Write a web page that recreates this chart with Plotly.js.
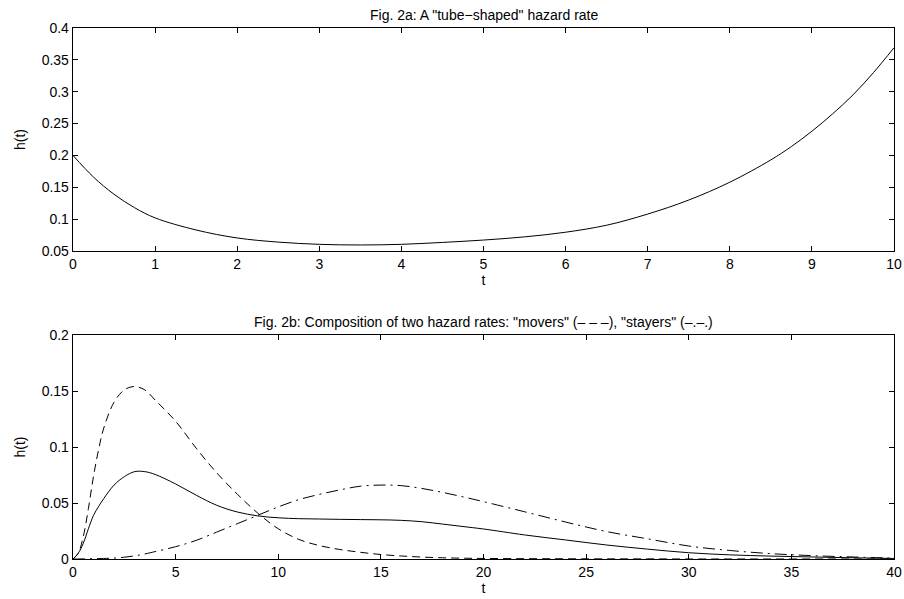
<!DOCTYPE html>
<html>
<head>
<meta charset="utf-8">
<script src="https://cdn.plot.ly/plotly-3.0.1.min.js"></script>
<style>html,body{margin:0;padding:0;background:#fff;}#chart{width:904px;height:599px;}</style>
</head>
<body>
<div id="chart"></div>
<script>
// Fig. 2a: tube-shaped hazard rate
const tA = [0,0.25,0.5,0.75,1,1.5,2,2.5,3,3.5,4,4.5,5,5.5,6,6.5,7,7.5,8,8.5,8.75,9,9.25,9.5,9.75,10];
const hTube = [0.2,0.166,0.139,0.118,0.102,0.083,0.0705,0.064,0.0605,0.0595,0.0605,0.0635,0.0672,0.0722,0.0795,0.0905,0.108,0.13,0.158,0.193,0.214,0.238,0.265,0.295,0.33,0.369];

// Fig. 2b: composition of two hazard rates
const tB = [0,0.25,0.5,0.75,1,1.25,1.5,2,2.5,3,3.5,4,5,6,7,8,9,10,11,12,13,14,15,16,17,18,19,20,22,24,26,28,30,32,34,36,38,40];
const hMix = [0,0.005,0.014,0.027,0.039,0.047,0.054,0.066,0.0735,0.078,0.078,0.0755,0.067,0.057,0.048,0.042,0.0385,0.0368,0.036,0.0357,0.0354,0.0352,0.035,0.0345,0.0333,0.0312,0.029,0.0268,0.0215,0.017,0.0125,0.0088,0.0056,0.0037,0.0026,0.0018,0.0011,0.0005];
const hMovers = [0,0.005,0.02,0.045,0.074,0.098,0.117,0.14,0.151,0.154,0.151,0.142,0.123,0.099,0.077,0.058,0.041,0.027,0.0175,0.012,0.0085,0.006,0.004,0.0027,0.0017,0.0011,0.0007,0.0005,0.0003,0.0002,0.0001,0.0001,0,0,0,0,0,0];
const hStayers = [0,0,0.0001,0.0002,0.0003,0.0004,0.0005,0.0008,0.0016,0.0028,0.0045,0.0066,0.011,0.0166,0.024,0.0315,0.039,0.0465,0.053,0.0577,0.0617,0.065,0.066,0.0655,0.063,0.0595,0.0555,0.0512,0.0422,0.033,0.0245,0.018,0.0116,0.0076,0.0048,0.003,0.0018,0.0008];

const titleA = 'Fig. 2a: A "tube\u2212shaped" hazard rate';
const titleB = 'Fig. 2b: Composition of two hazard rates: "movers" (\u2013 \u2013 \u2013), "stayers" (\u2013.\u2013.)';
const xTicksA = [0,1,2,3,4,5,6,7,8,9,10];
const yTicksA = [0.05,0.1,0.15,0.2,0.25,0.3,0.35,0.4];
const xTicksB = [0,5,10,15,20,25,30,35,40];
const yTicksB = [0,0.05,0.1,0.15,0.2];

const FONT = {family: '"Liberation Sans", Arial, Helvetica, sans-serif', size: 14, color: '#000'};
const lineBase = {color: '#000', width: 1, shape: 'spline', smoothing: 1};

const traces = [
  {x: tA, y: hTube, type: 'scatter', mode: 'lines', line: Object.assign({}, lineBase), xaxis: 'x', yaxis: 'y', hoverinfo: 'skip'},
  {x: tB, y: hMovers, type: 'scatter', mode: 'lines', line: Object.assign({}, lineBase, {dash: '8px,5px'}), xaxis: 'x2', yaxis: 'y2', hoverinfo: 'skip'},
  {x: tB, y: hStayers, type: 'scatter', mode: 'lines', line: Object.assign({}, lineBase, {dash: '12px,5px,2px,5px'}), xaxis: 'x2', yaxis: 'y2', hoverinfo: 'skip'},
  {x: tB, y: hMix, type: 'scatter', mode: 'lines', line: Object.assign({}, lineBase), xaxis: 'x2', yaxis: 'y2', hoverinfo: 'skip'}
];

const axisCommon = {
  showline: true, linecolor: '#000', linewidth: 1.3, mirror: 'ticks',
  ticks: 'inside', ticklen: 5, tickwidth: 1, tickcolor: '#000',
  showgrid: false, zeroline: false, tickfont: FONT, fixedrange: true
};

const layout = {
  width: 904, height: 599,
  margin: {l: 73, r: 10, t: 28, b: 40},
  paper_bgcolor: '#fff', plot_bgcolor: '#fff',
  showlegend: false,
  font: FONT,
  xaxis: Object.assign({}, axisCommon, {domain: [0, 1], range: [0, 10], tickmode: 'array', tickvals: xTicksA, anchor: 'y', title: {text: 't', font: FONT, standoff: 2}}),
  yaxis: Object.assign({}, axisCommon, {domain: [0.58, 1], range: [0.05, 0.4], tickmode: 'array', tickvals: yTicksA, anchor: 'x', title: {text: 'h(t)', font: FONT, standoff: 12}}),
  xaxis2: Object.assign({}, axisCommon, {domain: [0, 1], range: [0, 40], tickmode: 'array', tickvals: xTicksB, anchor: 'y2', title: {text: 't', font: FONT, standoff: 2}}),
  yaxis2: Object.assign({}, axisCommon, {domain: [0, 0.4218], range: [0, 0.2], tickmode: 'array', tickvals: yTicksB, anchor: 'x2', title: {text: 'h(t)', font: FONT, standoff: 12}}),
  annotations: [
    {text: titleA, xref: 'paper', yref: 'paper', x: 0.5, y: 1, yshift: 3, xanchor: 'center', yanchor: 'bottom', showarrow: false, font: FONT},
    {text: titleB, xref: 'paper', yref: 'paper', x: 0.5, y: 0.4218, yshift: 3, xanchor: 'center', yanchor: 'bottom', showarrow: false, font: FONT}
  ]
};

Plotly.newPlot('chart', traces, layout, {staticPlot: true, displayModeBar: false});
</script>
</body>
</html>
